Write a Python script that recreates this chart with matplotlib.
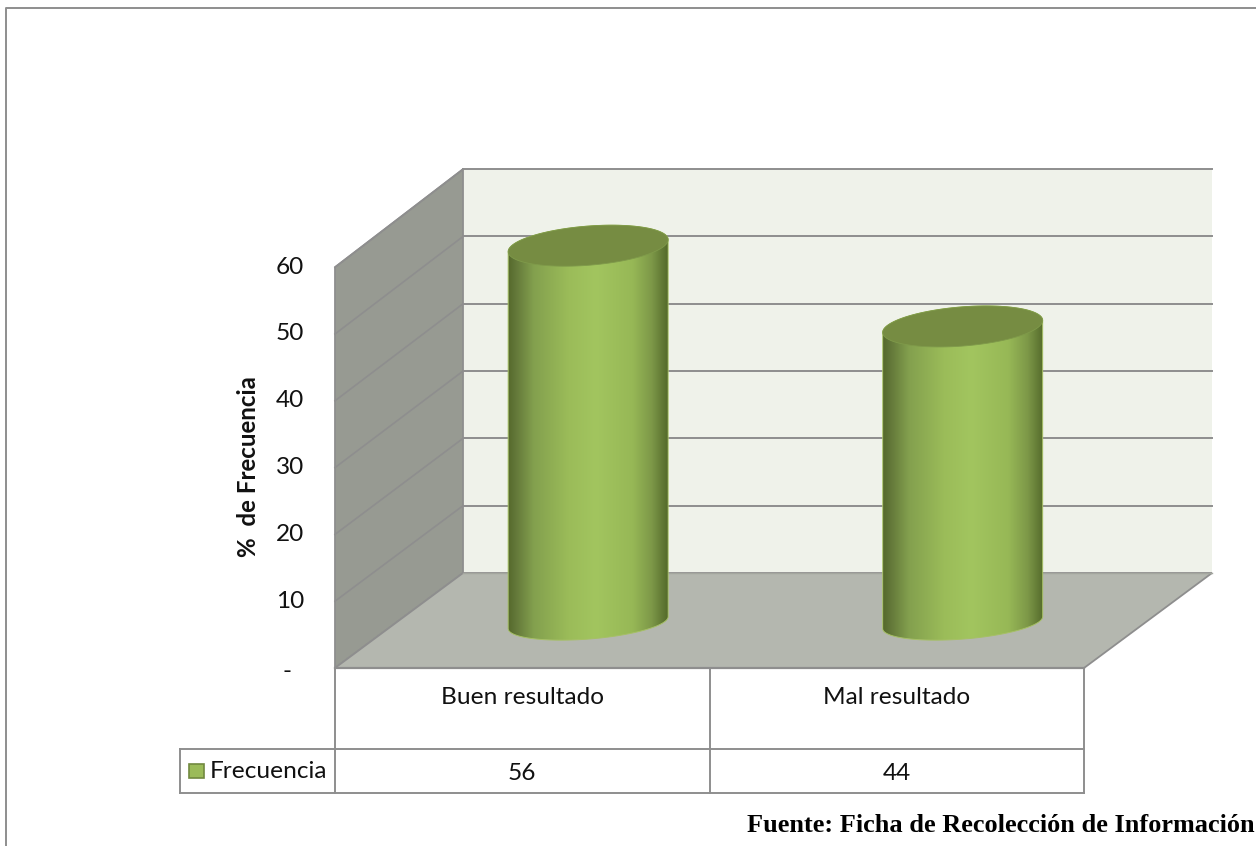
import numpy as np
import matplotlib
matplotlib.use("Agg")
import matplotlib.pyplot as plt
from matplotlib.colors import LinearSegmentedColormap
from matplotlib.patches import Polygon, Rectangle

categorias = ["Buen resultado", "Mal resultado"]
frecuencia = [56, 44]
serie = "Frecuencia"
ticks = [0, 10, 20, 30, 40, 50, 60]
tick_labels = ["-", "10", "20", "30", "40", "50", "60"]
eje_y = "%  de Frecuencia"
fuente = "Fuente: Ficha de Recolección de Información"

LINEA = "#8e8e8e"
SANS = ["Lato", "DejaVu Sans"]
TXT = 17.6

# box of the 3d chart, in pixels
X0, X1 = 335, 1084
Y0 = 668
DX, DY = 128, 95


def proy(x, v, d):
    # x = 0..n categories, v = value, d = depth 0 (front) .. 1 (back)
    px = X0 + x * (X1 - X0) / len(categorias) + d * DX
    py = Y0 - d * DY - v * (6.68 + 0.05 * d)
    return px, py


def caras(ax):
    ymax = ticks[-1]
    n = len(categorias)
    pared = [proy(0, 0, 0), proy(0, ymax, 0), proy(0, ymax, 1), proy(0, 0, 1)]
    fondo = [proy(0, 0, 1), proy(0, ymax, 1), proy(n, ymax, 1), proy(n, 0, 1)]
    piso = [proy(0, 0, 0), proy(0, 0, 1), proy(n, 0, 1), proy(n, 0, 0)]
    ax.add_patch(Polygon(fondo, fc="#eff2ea", ec="none"))
    ax.add_patch(Polygon(pared, fc="#979a92", ec=LINEA, lw=1.3))
    ax.add_patch(Polygon(piso, fc="#b4b7af", ec=LINEA, lw=1.3))
    for t in ticks[1:]:
        a, b = proy(0, t, 0), proy(0, t, 1)
        c = proy(n, t, 1)
        ax.plot([a[0], b[0]], [a[1], b[1]], color=LINEA, lw=1.2)
        ax.plot([b[0], c[0]], [b[1], c[1]], color=LINEA, lw=1.4)
    a, b = proy(0, 0, 1), proy(n, 0, 1)
    ax.plot([a[0], b[0]], [a[1], b[1]], color="#a3a69e", lw=1.0)


def elipse(cx, cy, t, b):
    return cx + 80 * np.cos(t), cy + b * np.sin(t) - 6 * np.cos(t)


def cilindro(ax, i, valor):
    cx = proy(i + 0.5, 0, 0.515)[0]
    cy = proy(i + 0.5, 0, 0.515)[1] + 3.5
    top = cy - valor * 6.73
    abajo = np.linspace(0, np.pi, 80)
    arriba = np.linspace(np.pi, 2 * np.pi, 80)
    xb, yb = elipse(cx, cy, abajo, 16.5)
    xt, yt = elipse(cx, top, arriba, 19.6)
    pts = np.column_stack([np.r_[xb, xt], np.r_[yb, yt]])
    lado = Polygon(pts, fc="none", ec="#a6c065", lw=0.7, zorder=4)
    ax.add_patch(lado)
    cm = LinearSegmentedColormap.from_list("cil", [
        (0.0, "#55692c"), (0.05, "#64793a"), (0.16, "#83a04e"),
        (0.38, "#9bbc59"), (0.55, "#a2c55f"), (0.78, "#97b856"),
        (0.9, "#7d9848"), (1.0, "#546a2b")])
    grad = np.linspace(0, 1, 256).reshape(1, -1)
    im = ax.imshow(grad, cmap=cm, aspect="auto", zorder=3,
                   extent=[cx - 80, cx + 80, cy + 25, top - 25])
    im.set_clip_path(lado)
    xe, ye = elipse(cx, top, np.linspace(0, 2 * np.pi, 160), 19.6)
    ax.add_patch(Polygon(np.column_stack([xe, ye]), fc="#768c42",
                         ec="#7f9a4a", lw=0.6, zorder=5))


def tabla(ax):
    n = len(categorias)
    fila1, fila2 = 749, 793
    xs = [X0 + k * (X1 - X0) / n for k in range(n + 1)]
    for x in xs:
        ax.plot([x, x], [Y0, fila2], color=LINEA, lw=1.4, solid_capstyle="projecting", zorder=6)
    ax.plot([X0, X1], [Y0, Y0], color=LINEA, lw=1.6, zorder=6)
    ax.plot([180, X1], [fila1, fila1], color=LINEA, lw=1.4, zorder=6)
    ax.plot([180, X1], [fila2, fila2], color=LINEA, lw=1.4, zorder=6)
    ax.plot([180, 180], [fila1, fila2], color=LINEA, lw=1.4, zorder=6)
    for i in range(n):
        xc = (xs[i] + xs[i + 1]) / 2
        ax.text(xc, 697, categorias[i], ha="center", va="center", fontsize=TXT, family=SANS, color="#111111")
        ax.text(xc, 773, str(frecuencia[i]), ha="center", va="center", fontsize=TXT, family=SANS, color="#111111")
    ax.add_patch(Rectangle((189, 764), 15, 14, fc="#9bbb59", ec="#71893f", lw=1.2, zorder=6))
    ax.text(210, 772, serie, ha="left", va="center", fontsize=TXT, family=SANS, color="#111111")


fig = plt.figure(figsize=(12.56, 8.46), dpi=100)
ax = fig.add_axes([0, 0, 1, 1])
ax.axis("off")

caras(ax)
for i, v in enumerate(frecuencia):
    cilindro(ax, i, v)
tabla(ax)

for t, lab in zip(ticks, tick_labels):
    if lab == "-":
        ax.text(292, proy(0, t, 0)[1] + 4, lab, ha="right", va="center", fontsize=TXT, family=SANS, color="#111111")
    else:
        ax.text(304, proy(0, t, 0)[1], lab, ha="right", va="center", fontsize=TXT, family=SANS, color="#111111")

ax.text(249, 467, eje_y, rotation=90, ha="center", va="center", fontsize=17.4,
        fontweight="bold", family=SANS, color="#111111")
ax.text(747, 826, fuente, ha="left", va="center", fontsize=18.9, fontweight="bold",
        family="Liberation Serif", color="black")

# outer frame, only top and left sides
ax.plot([6, 6, 1256], [846, 8, 8], color=LINEA, lw=1.4)

ax.set_xlim(0, 1256)
ax.set_ylim(846, 0)
fig.savefig("out.png", dpi=100)
